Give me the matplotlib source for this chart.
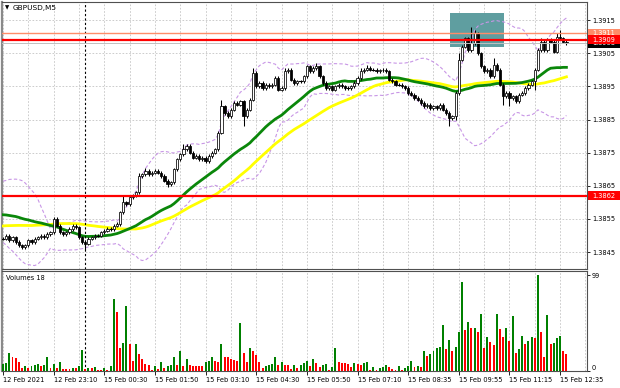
import numpy as np
import pandas as pd
import matplotlib
matplotlib.use("Agg")
import matplotlib.pyplot as plt
from matplotlib.patches import Rectangle
from matplotlib.transforms import blended_transform_factory

plt.rcParams['font.family'] = ['DejaVu Sans']

# prices are written as pips above 1.3800
base = 1.38
# closes before the visible window (only used to warm up the averages)
warmup = [46, 46, 47, 48, 47, 46, 47, 48, 49, 48, 47, 46, 47, 48, 49, 48, 47, 48, 49, 50, 51,
          52, 53, 54, 53, 55, 56, 55, 54, 56, 57, 56, 55, 57, 58, 59,
          60, 61, 62, 61, 60, 62, 63, 61, 60, 58,
          53, 50, 49, 49]

closes = [49, 50, 48.5, 49.5, 48, 47, 46.5, 47, 48.5, 48,
          49, 49.5, 50, 49.5, 50.5, 51, 55, 53, 51, 50.5,
          51, 52, 53, 52.5, 49.5, 48, 47.5, 49, 49.5, 50,
          50, 51, 51.5, 52, 52, 53, 53.5, 57, 60, 59.5,
          61.5, 62, 63, 68, 68.5, 69.5, 68.5, 69, 69.5, 69,
          68, 66.5, 65.5, 66, 70, 73, 74.5, 76, 77, 75,
          73.5, 74, 73, 73.5, 72.5, 74, 75, 76, 81, 89,
          87, 86, 88, 90, 89.5, 90.5, 86, 88, 91, 99,
          95, 96, 94.5, 95.5, 95, 95.5, 97.5, 94, 94.5, 99.5,
          100, 97, 96, 96.5, 96.5, 98, 101, 99.5, 100.5, 101,
          98, 96, 94.5, 95, 94, 95, 95.5, 95, 94.5, 94.5,
          95, 96, 97.5, 99.5, 100, 100.5, 100, 100, 99.5, 99.8,
          100, 99.5, 97, 96.5, 95.5, 95.5, 95, 94.5, 93, 92.5,
          91.5, 91, 90, 89, 89.5, 88.5, 89, 88.5, 89.5, 88,
          87, 85.5, 86, 93, 103, 107, 109.5, 106, 108, 111,
          105, 101, 99.5, 100, 98, 101.5, 100, 95.5, 92, 93,
          91.5, 92, 90.5, 92.5, 93, 94.5, 95.5, 96.5, 100, 106,
          108.5, 106, 109, 108.5, 105.5, 110, 109.5, 108.5, 108]

# bars with a longer shadow (pips), others get a short default wick
highs = {16: 55.5, 38: 62, 43: 69, 45: 70.5, 57: 77.5, 69: 91, 79: 100.5, 89: 100.5,
         96: 101.5, 99: 102, 113: 100.5, 115: 101.5, 144: 105, 146: 110, 148: 113,
         149: 112, 155: 103.5, 170: 109.5, 175: 111, 176: 112}
lows = {6: 46, 26: 45.5, 52: 64.5, 76: 83, 141: 83, 143: 85, 158: 89.5, 160: 89, 168: 94}
wick = 0.5

volumes = [7, 8, 19, 14, 13, 9, 3, 5, 3, 5, 6, 7, 5, 6, 15, 3, 7, 3, 9, 2,
           2, 2, 3, 3, 5, 22, 2, 3, 3, 4, 1, 1, 3, 1, 5, 75, 61, 24, 29, 67,
           28, 10, 28, 18, 12, 7, 6, 1, 5, 2, 9, 3, 5, 6, 14, 6, 21, 5, 12, 6,
           5, 5, 5, 5, 9, 10, 15, 10, 9, 28, 15, 14, 12, 11, 10, 50, 19, 9, 24, 21,
           17, 9, 3, 5, 6, 7, 15, 6, 9, 6, 6, 2, 6, 3, 6, 8, 10, 5, 12, 8,
           4, 6, 7, 1, 4, 24, 9, 8, 8, 7, 4, 8, 7, 6, 8, 9, 1, 4, 1, 3,
           4, 6, 4, 2, 1, 5, 1, 3, 5, 10, 4, 5, 4, 21, 16, 18, 21, 24, 25, 48,
           23, 32, 21, 25, 40, 92, 42, 51, 44, 45, 40, 59, 24, 35, 30, 27, 59, 43, 35, 44,
           31, 57, 19, 23, 36, 28, 31, 35, 34, 99, 40, 14, 58, 28, 29, 34, 36, 21, 18]

time_labels = ["12 Feb 2021", "12 Feb 23:10", "15 Feb 00:30", "15 Feb 01:50", "15 Feb 03:10",
               "15 Feb 04:30", "15 Feb 05:50", "15 Feb 07:10", "15 Feb 08:35", "15 Feb 09:55",
               "15 Feb 11:15", "15 Feb 12:35"]
price_ticks = [1.3845, 1.3855, 1.3865, 1.3875, 1.3885, 1.3895, 1.3905, 1.3915]
day_break = 26
level_r1 = 1.3911
level_r2 = 1.3909
bid = 1.3908
level_s = 1.3862
zone_bars = (141.2, 158.3)
zone_prices = (1.39068, 1.39171)

allc = pd.Series([base + p / 10000 for p in warmup + closes])
n0 = len(warmup)
ma30 = allc.rolling(30).mean().values[n0:]
ma50 = allc.rolling(50).mean().values[n0:]
mid = allc.rolling(20).mean()
sd = allc.rolling(20).std(ddof=0)
bb_up = (mid + 2 * sd).values[n0:]
bb_dn = (mid - 2 * sd).values[n0:]

c = allc.values[n0:]
o = allc.values[n0 - 1:-1]
n = len(c)
x = np.arange(n)
hi = np.array([base + highs[i] / 10000 if i in highs else max(o[i], c[i]) + wick / 10000 for i in range(n)])
lo = np.array([base + lows[i] / 10000 if i in lows else min(o[i], c[i]) - wick / 10000 for i in range(n)])

fig = plt.figure(figsize=(6.2, 3.88), dpi=100)
ax = fig.add_axes([2 / 620, 1 - 269 / 388, 585 / 620, 267.5 / 388])
axv = fig.add_axes([2 / 620, 1 - 371 / 388, 585 / 620, 100.5 / 388])

fs = 4.8
grid_kw = dict(color='#c4c4c4', linestyle=(0, (2, 2)), linewidth=0.6)

for a in (ax, axv):
    a.set_xlim(-0.32, 184.5)
    for s in a.spines.values():
        s.set_color('#505050')
        s.set_linewidth(0.8)
    a.spines['left'].set_linewidth(1.6)
    a.spines['left'].set_color('#8a8a8a')

ax.set_ylim(1.38399, 1.39206)
ax.set_xticks(np.arange(0, 185, 8))
ax.tick_params(axis='x', length=0, labelbottom=False)
ax.yaxis.tick_right()
ax.set_yticks(price_ticks)
ax.set_yticklabels([f"{p:.4f}" for p in price_ticks])
ax.tick_params(axis='y', labelsize=fs, length=2, width=0.6, pad=1.5)
ax.grid(True, **grid_kw)
ax.set_axisbelow(True)

# zone box
ax.add_patch(Rectangle((zone_bars[0], zone_prices[0]), zone_bars[1] - zone_bars[0],
                       zone_prices[1] - zone_prices[0], facecolor='#5f9ea0', edgecolor='none', zorder=1))

ax.plot(x, bb_up, color='#c896e6', lw=0.8, ls=(0, (3, 2)), zorder=2)
ax.plot(x, bb_dn, color='#c896e6', lw=0.8, ls=(0, (3, 2)), zorder=2)
ax.plot(x, ma50, color='#ffff00', lw=2.0, zorder=3)
ax.plot(x, ma30, color='#0a870a', lw=2.0, zorder=3)

# candles
ax.vlines(x, lo, hi, color='black', lw=0.75, zorder=4)
bw = 0.7
for i in range(n):
    h = abs(c[i] - o[i])
    if h < 0.3e-5:
        ax.plot([i - bw / 2, i + bw / 2], [c[i], c[i]], color='black', lw=0.8, zorder=5)
    else:
        fc = 'white' if c[i] > o[i] else 'black'
        ax.add_patch(Rectangle((i - bw / 2, min(o[i], c[i])), bw, h, facecolor=fc,
                               edgecolor='black', lw=0.55, zorder=5))

ax.axvline(day_break, color='black', lw=0.8, ls=(0, (2, 2)), zorder=3)
axv.axvline(day_break, color='black', lw=0.8, ls=(0, (2, 2)), zorder=3)

ax.axhline(level_r1, color='#ff8c69', lw=1.0, zorder=6)
ax.axhline(bid, color='#c0c0c0', lw=0.7, zorder=6)
ax.axhline(level_r2, color='#ff0000', lw=1.6, zorder=6)
ax.axhline(level_s, color='#ff0000', lw=1.6, zorder=6)

tr = blended_transform_factory(ax.transAxes, ax.transData)
box_h = 9 / 33140
for lvl, col, z in [(level_r1, '#ff8c69', 7), (bid, 'black', 8), (level_r2, '#ff0000', 9), (level_s, '#ff0000', 9)]:
    ax.add_patch(Rectangle((1.001, lvl - box_h / 2), 33 / 585, box_h, transform=tr,
                           facecolor=col, edgecolor='none', clip_on=False, zorder=z))
    ax.text(1 + 5 / 585, lvl, f"{lvl:.4f}", transform=tr, color='white', fontsize=fs,
            va='center', ha='left', zorder=z + 0.5, clip_on=False)

# volumes
vcol = ['#008000' if i > 0 and volumes[i] > volumes[i - 1] else '#ff0000' for i in range(n)]
vcol[0] = '#008000'
axv.bar(x, volumes, width=0.62, color=vcol, zorder=3)
axv.set_ylim(0, 104)
axv.yaxis.tick_right()
axv.set_yticks([0, 99])
axv.set_yticklabels(["0", "99"])
axv.get_yticklabels()[0].set_va('bottom')
axv.tick_params(axis='y', labelsize=fs, length=2, width=0.6, pad=1.5)
axv.set_xticks(np.arange(0, 177, 16))
axv.set_xticklabels(time_labels, ha='left')
axv.set_xticks(np.arange(0, 185, 8), minor=True)
axv.tick_params(axis='x', labelsize=fs, length=3, width=0.6, pad=1.5)
axv.tick_params(axis='x', which='minor', length=0)
axv.grid(True, axis='x', which='both', **grid_kw)
axv.set_axisbelow(True)

fig.text(5 / 620, 1 - 8 / 388, "▼", fontsize=4, va='center', ha='left')
fig.text(13 / 620, 1 - 8 / 388, "GBPUSD,M5", fontsize=5.3, va='center', ha='left')
fig.text(6 / 620, 1 - 278 / 388, "Volumes 18", fontsize=fs, va='center', ha='left')

fig.savefig("out.png", dpi=100)
